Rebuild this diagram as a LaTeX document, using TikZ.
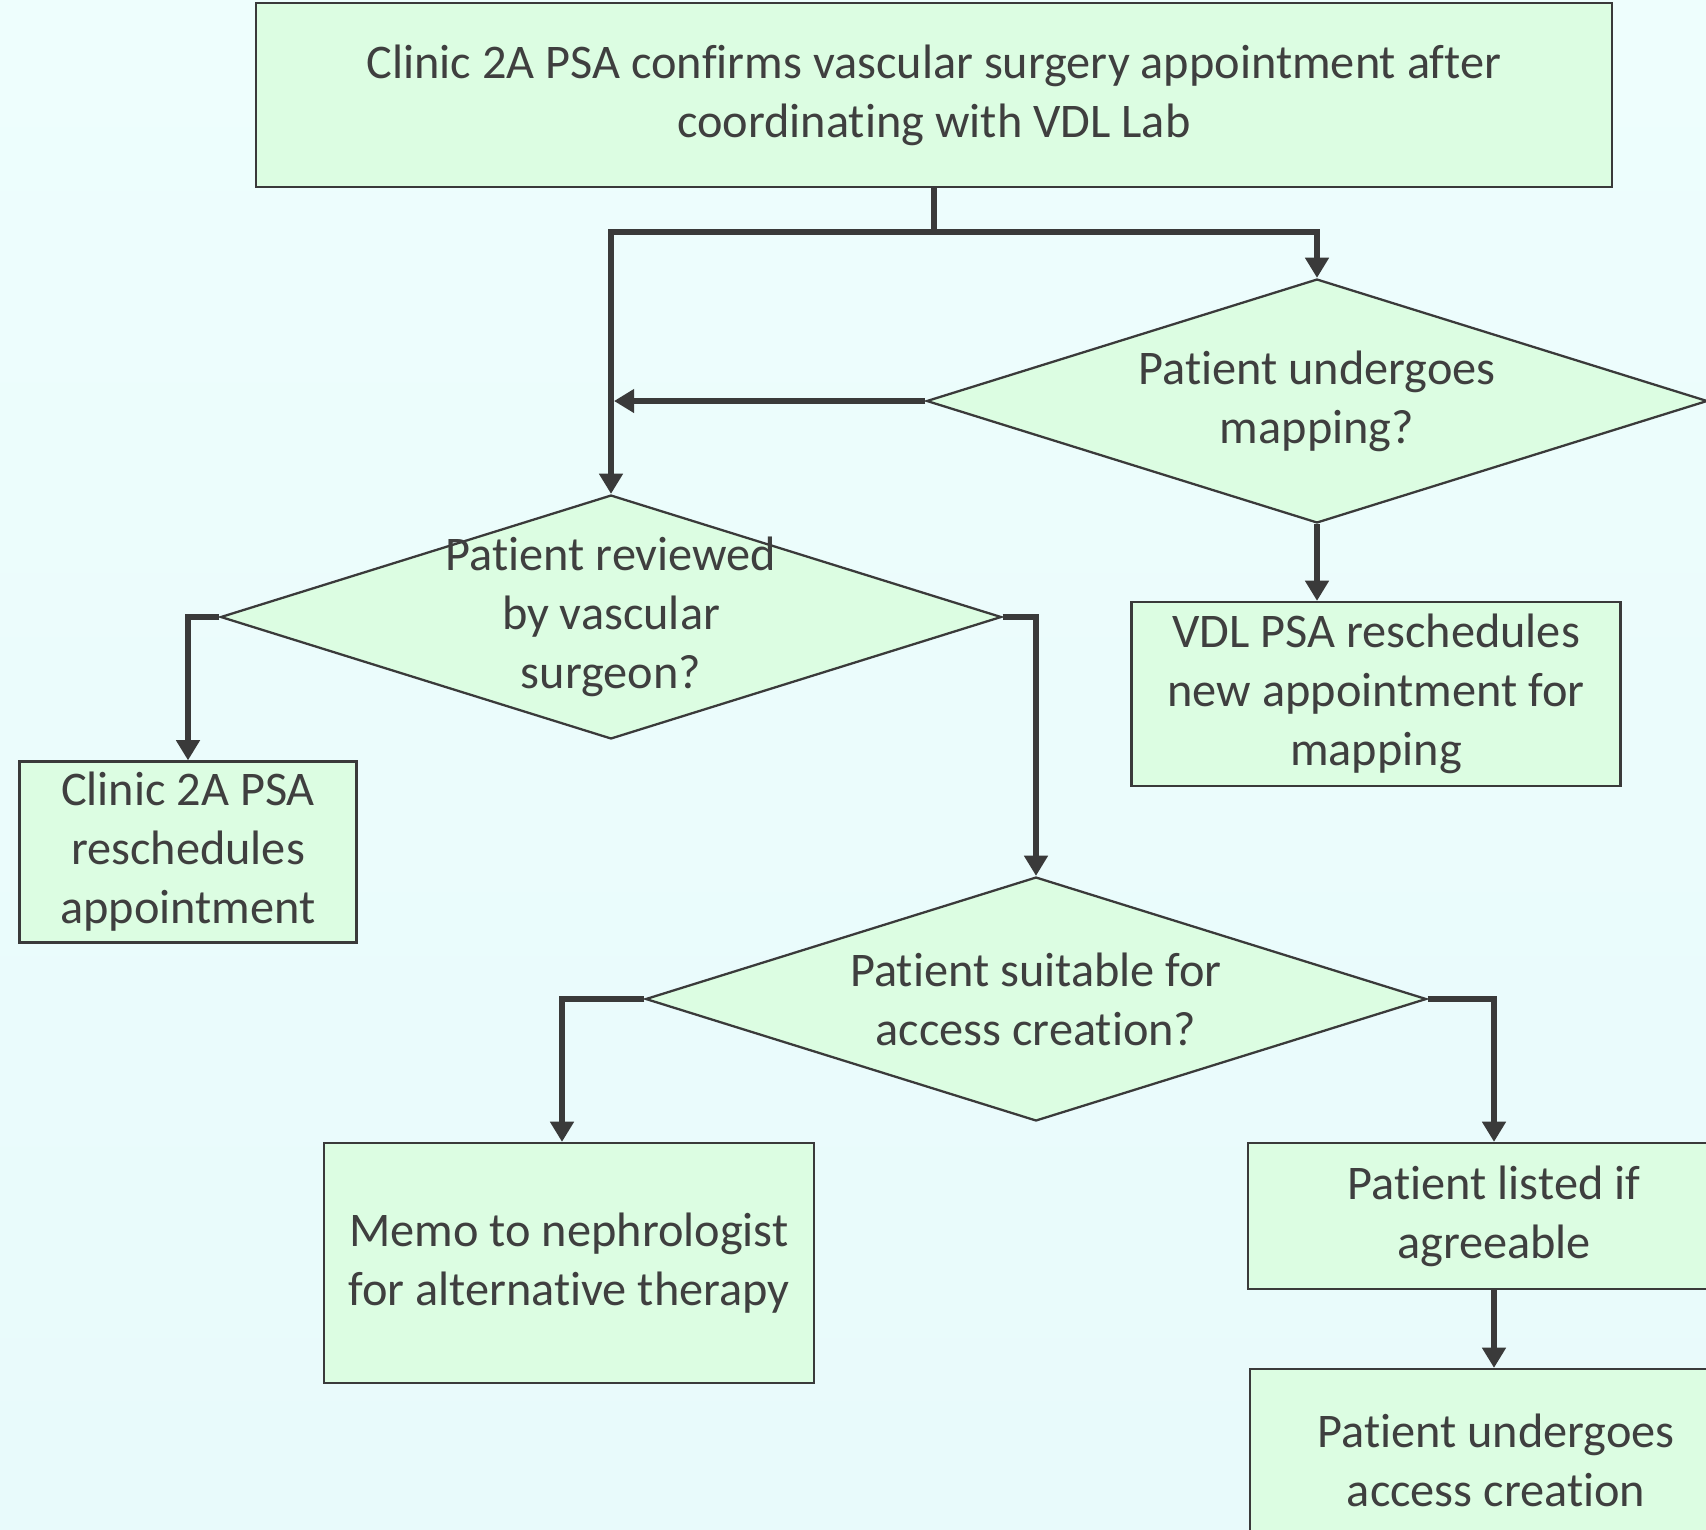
\documentclass[tikz,border=0pt]{standalone}
\usepackage{fontspec}
\setmainfont{Carlito}[Ligatures=NoCommon]
\usetikzlibrary{shapes.geometric,arrows.meta}
\definecolor{bgtop}{HTML}{EEFEFD}
\definecolor{bgbottom}{HTML}{E8FAFB}
\definecolor{boxgreen}{HTML}{DCFDE2}
\definecolor{linegray}{HTML}{3A3A3A}
\definecolor{textgray}{HTML}{3F3F3F}
\begin{document}
\begin{tikzpicture}[x=0.02cm,y=-0.02cm,
		box/.style={draw=linegray,line width=1.3pt,fill=boxgreen,text=textgray,align=center,inner sep=0pt,font=\fontsize{27.5}{33.6}\selectfont},
		decision/.style={diamond,aspect=3.2,draw=linegray,line width=1.3pt,fill=boxgreen,text=textgray,align=center,inner sep=-1cm,minimum width=15.62cm,minimum height=4.88cm,font=\fontsize{27.5}{33.6}\selectfont},
		link/.style={draw=linegray,line width=3.4pt},
		flow/.style={link,-{Triangle[width=13pt,length=11.5pt]}}]
		\shade[top color=bgtop,bottom color=bgbottom] (0,0) rectangle (1706,1529);
		\clip (0,0) rectangle (1706,1529);

		\node[box,minimum width=27.12cm,minimum height=3.68cm] (confirm) at (934,95) {Clinic 2A PSA confirms vascular surgery appointment after\\coordinating with VDL Lab};

		\node[decision] (mapping) at (1317,401) {Patient undergoes\\mapping?};
		\node[box,minimum width=9.78cm,minimum height=3.68cm] (vdl) at (1376,694) {VDL PSA reschedules\\new appointment for\\mapping};

		\node[decision] (review) at (611,617) {Patient reviewed\\by vascular\\surgeon?};
		\node[box,minimum width=6.74cm,minimum height=3.62cm] (clinic) at (188,852) {Clinic 2A PSA\\reschedules\\appointment};

		\node[decision] (suitable) at (1036,999) {Patient suitable for\\access creation?};
		\node[box,minimum width=9.8cm,minimum height=4.8cm] (memo) at (569,1263) {Memo to nephrologist\\for alternative therapy};
		\node[box,minimum width=9.84cm,minimum height=2.92cm] (listed) at (1494,1216) {Patient listed if\\agreeable};
		\node[box,minimum width=9.84cm,minimum height=3.64cm] (access) at (1496,1460) {Patient undergoes\\access creation};

		\coordinate (split) at (934,232);
		\draw[link] (confirm.south) -- (split);
		\draw[flow] (split) -| (mapping.north);
		\draw[flow] (split) -| (review.north);
		\draw[flow,shorten >=1.7pt] (mapping.west) -- (mapping.west -| review.north);
		\draw[flow] (mapping.south) -- (mapping.south |- vdl.north);

		\draw[flow] (review.west) -| (clinic.north);
		\draw[flow] (review.east) -| (suitable.north);

		\draw[flow] (suitable.west) -| ([xshift=-0.14cm]memo.north);
		\draw[flow] (suitable.east) -| (listed.north);
		\draw[flow] (listed.south) -- (listed.south |- access.north);

	\end{tikzpicture}
\end{document}
